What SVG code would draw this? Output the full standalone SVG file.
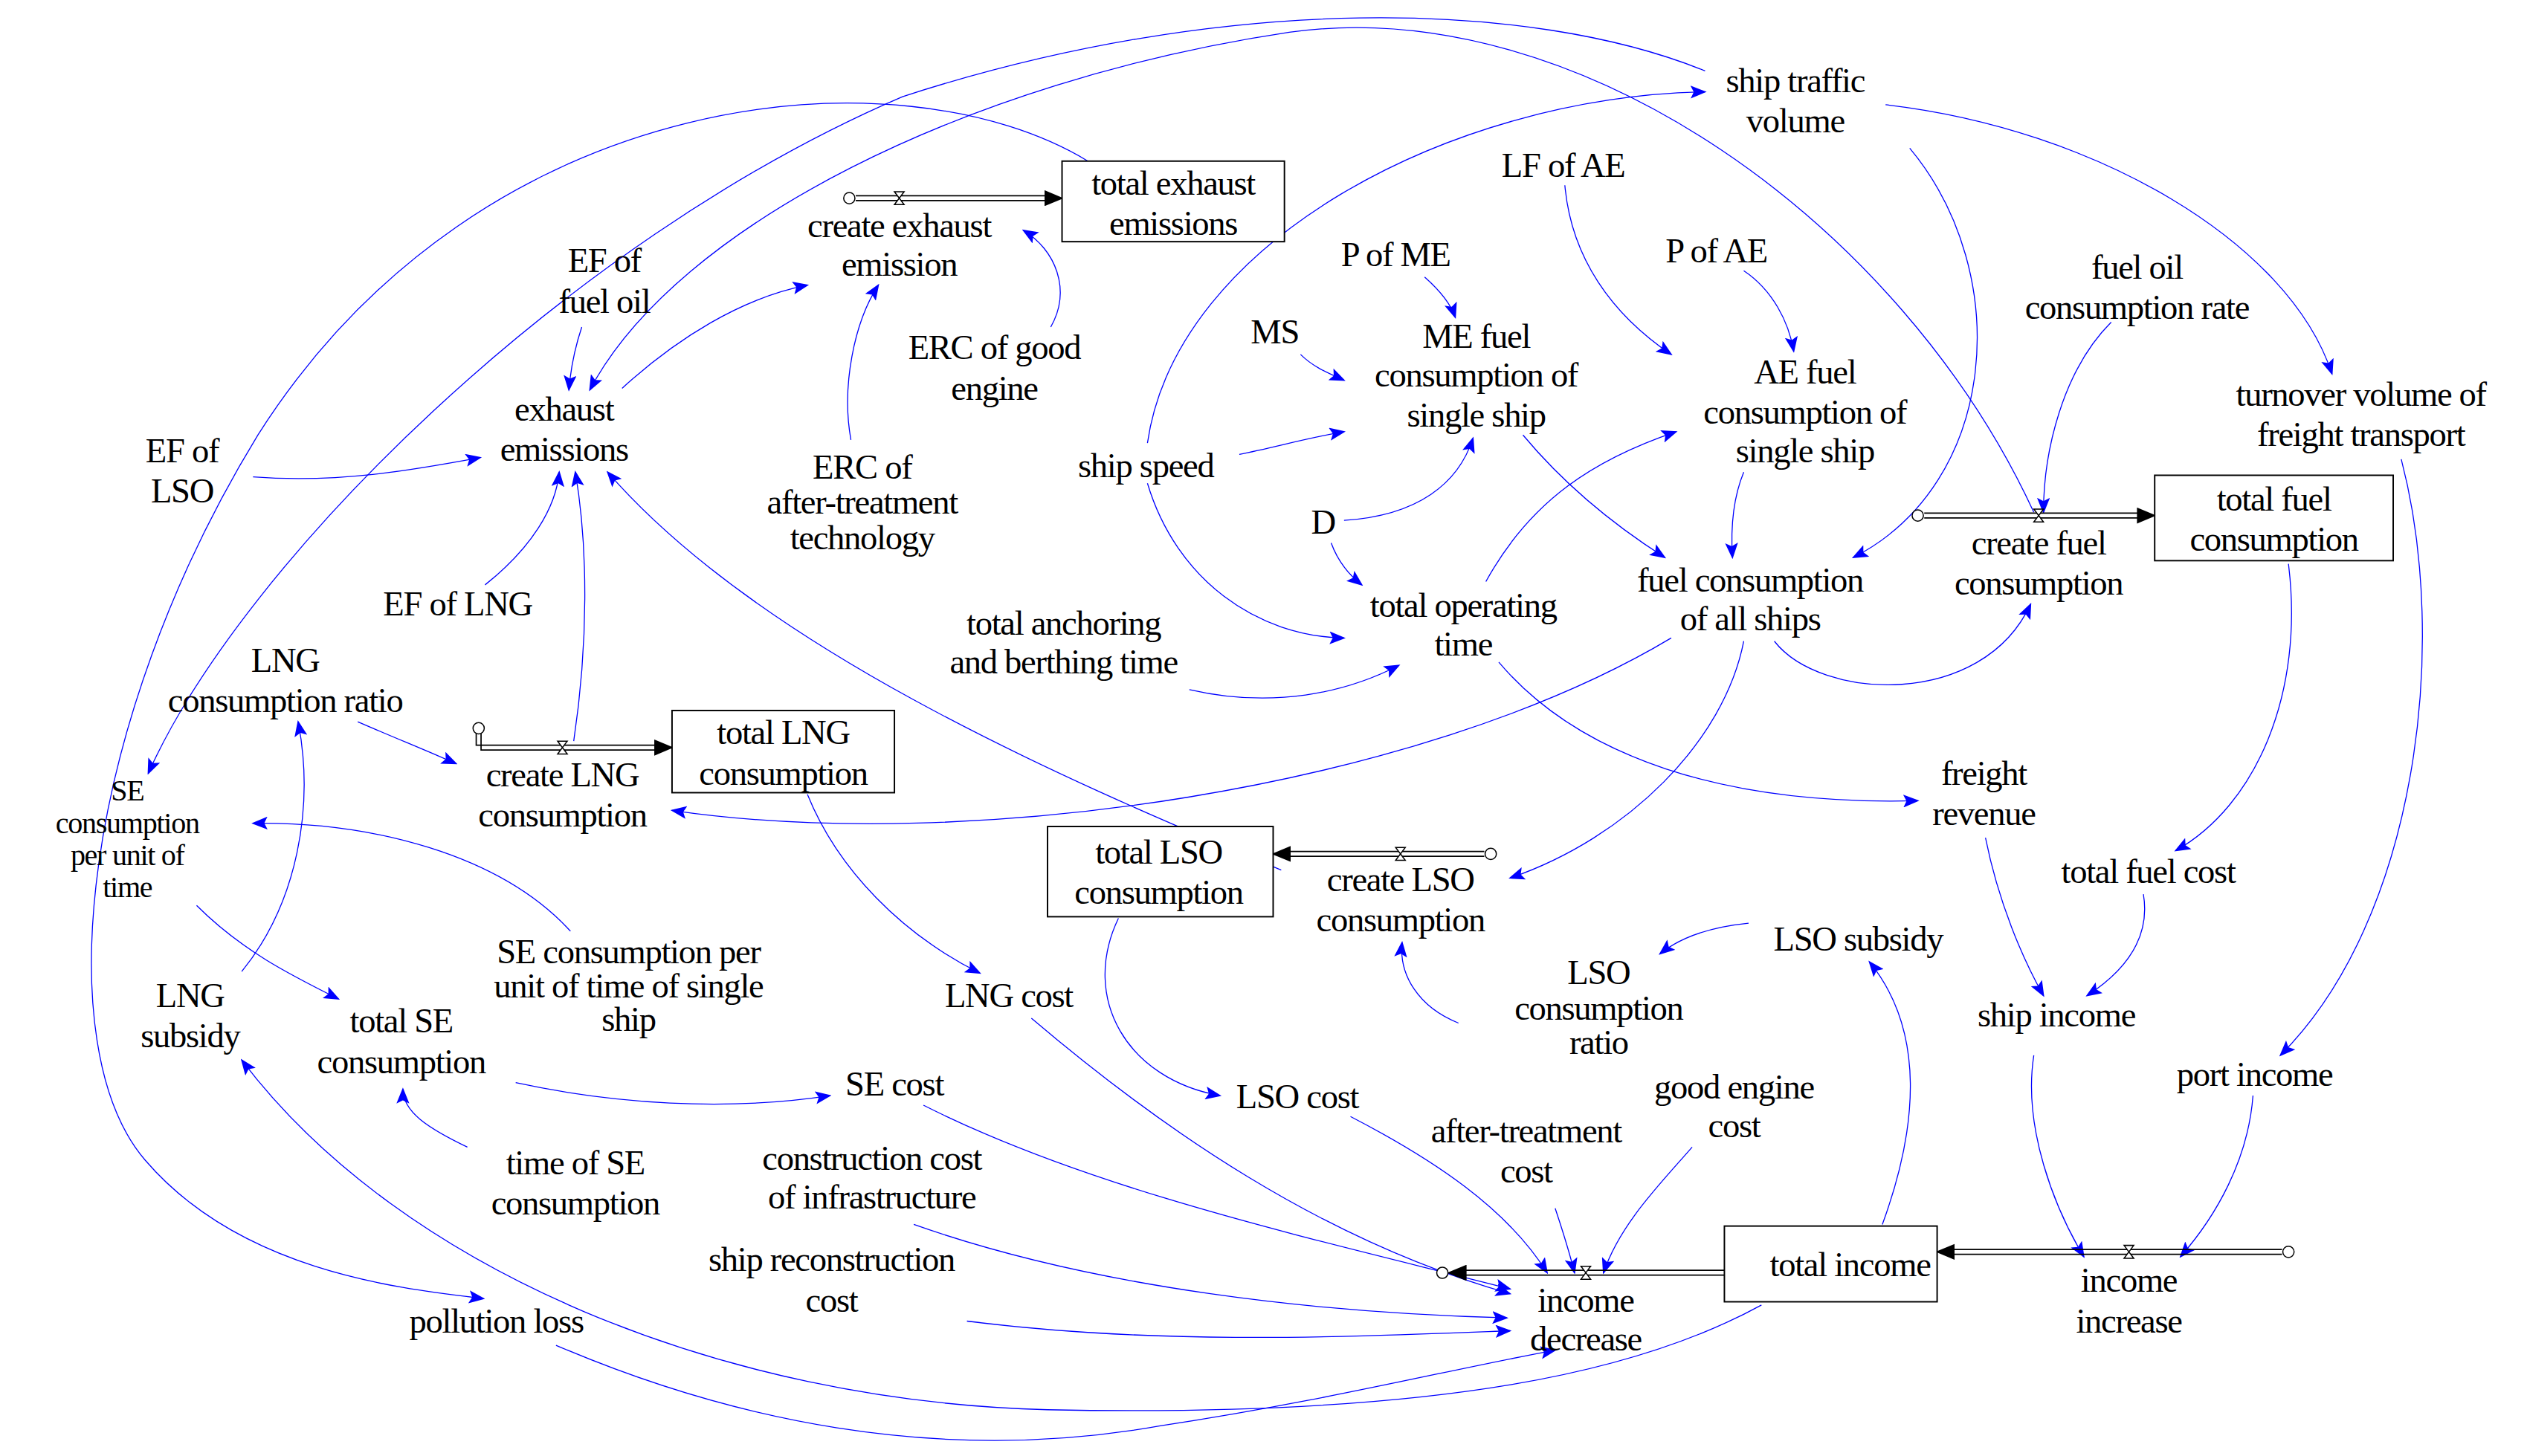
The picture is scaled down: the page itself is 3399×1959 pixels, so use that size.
<svg xmlns="http://www.w3.org/2000/svg" width="3399" height="1959" viewBox="0 0 3399 1959">
<defs>
<marker id="a" markerUnits="userSpaceOnUse" markerWidth="10" markerHeight="8" refX="9" refY="4" orient="auto"><path d="M0,0 L10,4 L0,8 L2,4 Z" fill="#0000ff"/></marker>
<marker id="k" markerUnits="userSpaceOnUse" markerWidth="12" markerHeight="10" refX="11" refY="5" orient="auto"><path d="M0,0 L12,5 L0,10 Z" fill="#000"/></marker>
<g id="valve"><path d="M-3,-4 L3,-4 L-3,4 L3,4 Z" fill="#fff" stroke="#000" stroke-width="0.7"/></g>
<g id="cloud"><circle r="3.5" fill="#fff" stroke="#000" stroke-width="0.7"/></g>
</defs>
<style>
text{font-family:"Liberation Serif","Times New Roman",serif;font-size:21.5px;letter-spacing:-0.6px;text-anchor:middle;fill:#000}
.sm{font-size:18.5px}
.c path{fill:none;stroke:#0000ff;stroke-width:0.6}
.p{fill:none;stroke:#000;stroke-width:0.8}
.box{fill:#fff;stroke:#000;stroke-width:0.9}
</style>
<rect width="3399" height="1959" fill="#fff"/>
<g transform="scale(2.1677)">
<g class="c" id="connectors">
<path d="M675,100 C560,30 300,50 160,270 C50,450 30,650 90,720 C150,790 250,800 300,806" marker-end="url(#a)"/>
<path d="M1058,44 C950,0 760,-5 560,60 C350,150 150,350 92,480" marker-end="url(#a)"/>
<path d="M1262,318 C1180,140 980,-5 800,20 C600,50 420,140 366,242" marker-end="url(#a)"/>
<path d="M712,275 C730,150 900,60 1058,57" marker-end="url(#a)"/>
<path d="M712,300 C730,360 780,395 834,396" marker-end="url(#a)"/>
<path d="M769,282 C790,278 810,272 834,268" marker-end="url(#a)"/>
<path d="M807,220 C815,228 825,232 834,236" marker-end="url(#a)"/>
<path d="M884,172 C893,180 900,188 903,197" marker-end="url(#a)"/>
<path d="M971,115 C975,160 1000,195 1037,220" marker-end="url(#a)"/>
<path d="M1082,168 C1100,180 1110,200 1113,218" marker-end="url(#a)"/>
<path d="M834,323 C880,320 905,300 914,272" marker-end="url(#a)"/>
<path d="M826,337 C830,348 836,356 845,363" marker-end="url(#a)"/>
<path d="M922,361 C950,310 990,285 1040,268" marker-end="url(#a)"/>
<path d="M945,270 C970,300 1000,325 1033,346" marker-end="url(#a)"/>
<path d="M1082,293 C1075,310 1074,330 1075,346" marker-end="url(#a)"/>
<path d="M1185,92 C1250,170 1240,300 1150,346" marker-end="url(#a)"/>
<path d="M1101,398 C1130,435 1230,440 1260,375" marker-end="url(#a)"/>
<path d="M1037,396 C880,490 600,530 417,503" marker-end="url(#a)"/>
<path d="M1082,398 C1070,460 1010,520 937,545" marker-end="url(#a)"/>
<path d="M930,411 C980,470 1070,500 1190,497" marker-end="url(#a)"/>
<path d="M738,428 C790,440 835,430 868,413" marker-end="url(#a)"/>
<path d="M157,296 C210,300 255,292 298,284" marker-end="url(#a)"/>
<path d="M361,203 C357,215 354,230 353,242" marker-end="url(#a)"/>
<path d="M386,241 C420,210 460,185 501,177" marker-end="url(#a)"/>
<path d="M528,273 C522,240 530,200 545,177" marker-end="url(#a)"/>
<path d="M652,203 C665,180 655,155 635,143" marker-end="url(#a)"/>
<path d="M301,363 C330,340 345,315 347,293" marker-end="url(#a)"/>
<path d="M356,460 C365,400 365,340 357,293" marker-end="url(#a)"/>
<path d="M795,540 C650,480 470,400 377,293" marker-end="url(#a)"/>
<path d="M222,448 C245,458 265,466 283,474" marker-end="url(#a)"/>
<path d="M150,603 C185,560 195,500 185,448" marker-end="url(#a)"/>
<path d="M354,578 C310,530 230,510 157,511" marker-end="url(#a)"/>
<path d="M501,493 C520,540 560,580 608,604" marker-end="url(#a)"/>
<path d="M694,570 C670,620 700,670 757,680" marker-end="url(#a)"/>
<path d="M122,562 C150,590 180,605 210,620" marker-end="url(#a)"/>
<path d="M320,672 C380,685 450,690 515,680" marker-end="url(#a)"/>
<path d="M290,712 C265,700 250,690 250,676" marker-end="url(#a)"/>
<path d="M573,686 C680,740 820,770 937,800" marker-end="url(#a)"/>
<path d="M640,632 C720,700 820,770 937,803" marker-end="url(#a)"/>
<path d="M567,760 C680,800 820,815 935,818" marker-end="url(#a)"/>
<path d="M600,820 C720,835 830,830 937,826" marker-end="url(#a)"/>
<path d="M838,693 C890,720 935,750 960,790" marker-end="url(#a)"/>
<path d="M965,750 C970,765 974,778 977,790" marker-end="url(#a)"/>
<path d="M1050,712 C1030,735 1005,760 995,790" marker-end="url(#a)"/>
<path d="M345,835 C450,880 580,910 720,885 C820,870 900,850 965,838" marker-end="url(#a)"/>
<path d="M1093,810 C1020,850 900,880 650,875 C450,870 250,790 150,658" marker-end="url(#a)"/>
<path d="M1168,760 C1190,700 1195,640 1160,597" marker-end="url(#a)"/>
<path d="M1085,573 C1065,575 1045,580 1030,592" marker-end="url(#a)"/>
<path d="M905,635 C880,625 868,605 870,585" marker-end="url(#a)"/>
<path d="M1232,520 C1240,560 1255,595 1268,618" marker-end="url(#a)"/>
<path d="M1330,555 C1335,585 1315,605 1295,618" marker-end="url(#a)"/>
<path d="M1420,350 C1430,430 1400,500 1350,528" marker-end="url(#a)"/>
<path d="M1262,655 C1255,700 1275,750 1293,780" marker-end="url(#a)"/>
<path d="M1398,680 C1395,720 1375,755 1353,780" marker-end="url(#a)"/>
<path d="M1490,285 C1520,400 1500,570 1415,655" marker-end="url(#a)"/>
<path d="M1170,65 C1300,80 1420,150 1447,232" marker-end="url(#a)"/>
<path d="M1310,200 C1280,230 1268,280 1268,318" marker-end="url(#a)"/>
</g>
<g id="flows">
<path class="p" d="M531,121.5 H652 M531,124.5 H652"/><path d="M531,123 H659" stroke="none" fill="none" marker-end="url(#k)"/>
<use href="#cloud" x="527" y="123"/><use href="#valve" x="558" y="123"/>
<path class="p" d="M295.5,452 V462.5 H410 M298.5,452 V465.5 H410"/><path d="M400,464 H417" fill="none" marker-end="url(#k)"/>
<use href="#cloud" x="297" y="452"/><use href="#valve" x="349" y="464"/>
<path class="p" d="M1194,318.5 H1330 M1194,321.5 H1330"/><path d="M1320,320 H1337" fill="none" marker-end="url(#k)"/>
<use href="#cloud" x="1190" y="320"/><use href="#valve" x="1265" y="320"/>
<path class="p" d="M921,528.5 H797 M921,531.5 H797"/><path d="M805,530 H790" fill="none" marker-end="url(#k)"/>
<use href="#cloud" x="925" y="530"/><use href="#valve" x="869" y="530"/>
<path class="p" d="M1070,788.5 H907 M1070,791.5 H907"/><path d="M915,790 H899" fill="none" marker-end="url(#k)"/>
<use href="#cloud" x="895" y="790"/><use href="#valve" x="984" y="790"/>
<path class="p" d="M1416,775.5 H1209 M1416,778.5 H1209"/><path d="M1217,777 H1202" fill="none" marker-end="url(#k)"/>
<use href="#cloud" x="1420" y="777"/><use href="#valve" x="1321" y="777"/>
</g>
<g id="n-stv"><text x="1114" y="57">ship traffic</text><text x="1114" y="82">volume</text></g>
<g id="n-tee"><rect class="box" x="659" y="100" width="138" height="50"/><text x="728" y="121">total exhaust</text><text x="728" y="146">emissions</text></g>
<g id="n-cee"><text x="558" y="147">create exhaust</text><text x="558" y="171">emission</text></g>
<g id="n-effo"><text x="375" y="169">EF of</text><text x="375" y="194">fuel oil</text></g>
<g id="n-ee"><text x="350" y="261">exhaust</text><text x="350" y="286">emissions</text></g>
<g id="n-ercg"><text x="617" y="223">ERC of good</text><text x="617" y="248">engine</text></g>
<g id="n-erca"><text x="535" y="297">ERC of</text><text x="535" y="319">after-treatment</text><text x="535" y="341">technology</text></g>
<g id="n-eflso"><text x="113" y="287">EF of</text><text x="113" y="312">LSO</text></g>
<g id="n-eflng"><text x="284" y="382">EF of LNG</text></g>
<g id="n-lngr"><text x="177" y="417">LNG</text><text x="177" y="442">consumption ratio</text></g>
<g id="n-tlng"><rect class="box" x="417" y="441" width="138" height="51"/><text x="486" y="462">total LNG</text><text x="486" y="487">consumption</text></g>
<g id="n-clng"><text x="349" y="488">create LNG</text><text x="349" y="513">consumption</text></g>
<g id="n-sepu"><text class="sm" x="79" y="497">SE</text><text class="sm" x="79" y="517">consumption</text><text class="sm" x="79" y="537">per unit of</text><text class="sm" x="79" y="557">time</text></g>
<g id="n-seps"><text x="390" y="598">SE consumption per</text><text x="390" y="619">unit of time of single</text><text x="390" y="640">ship</text></g>
<g id="n-lngs"><text x="118" y="625">LNG</text><text x="118" y="650">subsidy</text></g>
<g id="n-tse"><text x="249" y="641">total SE</text><text x="249" y="666">consumption</text></g>
<g id="n-lngc"><text x="626" y="625">LNG cost</text></g>
<g id="n-sec"><text x="555" y="680">SE cost</text></g>
<g id="n-tsec"><text x="357" y="729">time of SE</text><text x="357" y="754">consumption</text></g>
<g id="n-cci"><text x="541" y="726">construction cost</text><text x="541" y="750">of infrastructure</text></g>
<g id="n-src"><text x="516" y="789">ship reconstruction</text><text x="516" y="814">cost</text></g>
<g id="n-pl"><text x="308" y="827">pollution loss</text></g>
<g id="n-pme"><text x="866" y="165">P of ME</text></g>
<g id="n-lfae"><text x="970" y="110">LF of AE</text></g>
<g id="n-pae"><text x="1065" y="163">P of AE</text></g>
<g id="n-ms"><text x="791" y="213">MS</text></g>
<g id="n-mef"><text x="916" y="216">ME fuel</text><text x="916" y="240">consumption of</text><text x="916" y="265">single ship</text></g>
<g id="n-aef"><text x="1120" y="238">AE fuel</text><text x="1120" y="263">consumption of</text><text x="1120" y="287">single ship</text></g>
<g id="n-ss"><text x="711" y="296">ship speed</text></g>
<g id="n-d"><text x="821" y="331">D</text></g>
<g id="n-tot"><text x="908" y="383">total operating</text><text x="908" y="407">time</text></g>
<g id="n-tab"><text x="660" y="394">total anchoring</text><text x="660" y="418">and berthing time</text></g>
<g id="n-fcas"><text x="1086" y="367">fuel consumption</text><text x="1086" y="391">of all ships</text></g>
<g id="n-focr"><text x="1326" y="173">fuel oil</text><text x="1326" y="198">consumption rate</text></g>
<g id="n-tvft"><text x="1465" y="252">turnover volume of</text><text x="1465" y="277">freight transport</text></g>
<g id="n-tfc"><rect class="box" x="1337" y="295" width="148" height="53"/><text x="1411" y="317">total fuel</text><text x="1411" y="342">consumption</text></g>
<g id="n-cfc"><text x="1265" y="344">create fuel</text><text x="1265" y="369">consumption</text></g>
<g id="n-fr"><text x="1231" y="487">freight</text><text x="1231" y="512">revenue</text></g>
<g id="n-tlso"><rect class="box" x="650" y="513" width="140" height="56"/><text x="719" y="536">total LSO</text><text x="719" y="561">consumption</text></g>
<g id="n-clso"><text x="869" y="553">create LSO</text><text x="869" y="578">consumption</text></g>
<g id="n-lsos"><text x="1153" y="590">LSO subsidy</text></g>
<g id="n-lsor"><text x="992" y="611">LSO</text><text x="992" y="633">consumption</text><text x="992" y="654">ratio</text></g>
<g id="n-tfcost"><text x="1333" y="548">total fuel cost</text></g>
<g id="n-si"><text x="1276" y="637">ship income</text></g>
<g id="n-pi"><text x="1399" y="674">port income</text></g>
<g id="n-lsoc"><text x="805" y="688">LSO cost</text></g>
<g id="n-gec"><text x="1076" y="682">good engine</text><text x="1076" y="706">cost</text></g>
<g id="n-atc"><text x="947" y="709">after-treatment</text><text x="947" y="734">cost</text></g>
<g id="n-ti"><rect class="box" x="1070" y="761" width="132" height="47"/><text x="1148" y="792">total income</text></g>
<g id="n-id"><text x="984" y="814">income</text><text x="984" y="838">decrease</text></g>
<g id="n-ii"><text x="1321" y="802">income</text><text x="1321" y="827">increase</text></g>
</g>
</svg>
